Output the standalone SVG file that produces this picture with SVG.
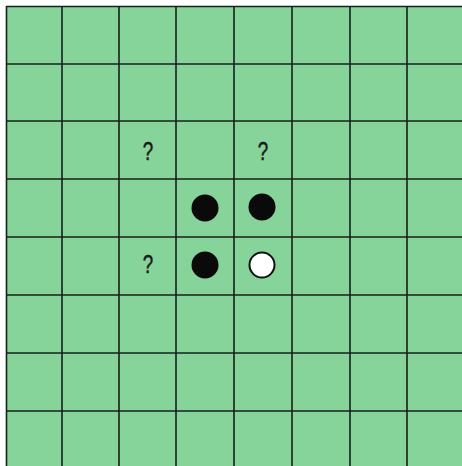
<svg xmlns="http://www.w3.org/2000/svg" width="462" height="466" viewBox="0 0 462 466">
<defs>
<style>
.grid line{stroke:#16201a;stroke-width:1.6}
.blk{fill:#0a0a0a}
.wht{fill:#ffffff;stroke:#111;stroke-width:2}
.q{font-family:"Liberation Sans",Arial,sans-serif;font-size:25px;fill:#1a1a1a;stroke:#1a1a1a;stroke-width:0.5;text-anchor:middle}
</style>
</defs>
<rect x="0" y="0" width="462" height="466" fill="#ffffff"/>
<rect id="board" x="6" y="6" width="456" height="460" fill="#87d49a"/>
<g id="grid" class="grid">
<line x1="6" y1="6.5" x2="462" y2="6.5"/>
<line x1="6.5" y1="6" x2="6.5" y2="466"/>
<line x1="62" y1="6" x2="62" y2="466"/>
<line x1="119" y1="6" x2="119" y2="466"/>
<line x1="176" y1="6" x2="176" y2="466"/>
<line x1="234" y1="6" x2="234" y2="466"/>
<line x1="292" y1="6" x2="292" y2="466"/>
<line x1="350" y1="6" x2="350" y2="466"/>
<line x1="407" y1="6" x2="407" y2="466"/>
<line x1="6" y1="64" x2="462" y2="64"/>
<line x1="6" y1="121" x2="462" y2="121"/>
<line x1="6" y1="179" x2="462" y2="179"/>
<line x1="6" y1="237" x2="462" y2="237"/>
<line x1="6" y1="295" x2="462" y2="295"/>
<line x1="6" y1="353" x2="462" y2="353"/>
<line x1="6" y1="411" x2="462" y2="411"/>
</g>
<g id="pieces">
<circle id="d4" class="blk" cx="205" cy="208" r="13.5"/>
<circle id="e4" class="blk" cx="262" cy="207" r="13.5"/>
<circle id="d5" class="blk" cx="205" cy="265" r="13.5"/>
<circle id="e5" class="wht" cx="262" cy="265" r="12.5"/>
</g>
<g id="marks">
<text class="q" transform="translate(148 160) scale(0.75 1)">?</text>
<text class="q" transform="translate(263 160) scale(0.75 1)">?</text>
<text class="q" transform="translate(148 273) scale(0.75 1)">?</text>
</g>
</svg>
